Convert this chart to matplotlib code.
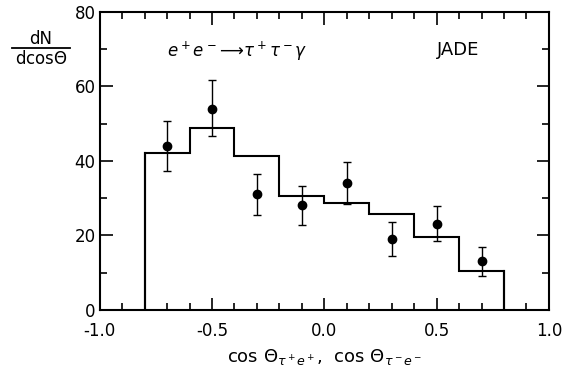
import matplotlib
matplotlib.use("Agg")
import matplotlib.pyplot as plt
from matplotlib.ticker import MultipleLocator
from matplotlib.lines import Line2D

# histogram (MC expectation), bins of 0.2 from -0.8 to 0.8
bin_edges = [-0.8, -0.6, -0.4, -0.2, 0.0, 0.2, 0.4, 0.6, 0.8]
hist_vals = [42, 48.8, 41.2, 30.6, 28.8, 25.8, 19.7, 10.5]

# data points
x_pts = [-0.7, -0.5, -0.3, -0.1, 0.1, 0.3, 0.5, 0.7]
y_pts = [44.1, 54.0, 31.0, 28.2, 34.2, 19.0, 23.2, 13.1]
err_up = [6.5, 7.6, 5.6, 5.1, 5.6, 4.5, 4.8, 3.7]
err_dn = [6.7, 7.2, 5.4, 5.4, 5.7, 4.5, 4.7, 4.0]

plt.rcParams['font.family'] = ['DejaVu Sans']
plt.rcParams['mathtext.fontset'] = 'dejavusans'

fig = plt.figure(figsize=(5.7, 3.73), dpi=100)
ax = fig.add_axes([0.175, 0.169, 0.788, 0.799])

ax.stairs(hist_vals, bin_edges, color='black', lw=1.5, baseline=0)
ax.plot([bin_edges[0], bin_edges[0]], [0, hist_vals[0]], color='black', lw=1.5)
ax.plot([bin_edges[-1], bin_edges[-1]], [0, hist_vals[-1]], color='black', lw=1.5)

ax.errorbar(x_pts, y_pts, yerr=[err_dn, err_up], fmt='o', color='black',
            ms=6, elinewidth=1.0, capsize=3, capthick=1.0)

ax.set_xlim(-1.0, 1.0)
ax.set_ylim(0, 80)
ax.xaxis.set_major_locator(MultipleLocator(0.5))
ax.xaxis.set_minor_locator(MultipleLocator(0.1))
ax.yaxis.set_major_locator(MultipleLocator(20))
ax.yaxis.set_minor_locator(MultipleLocator(10))
ax.set_xticks([-1.0, -0.5, 0.0, 0.5, 1.0])
ax.set_xticklabels(['-1.0', '-0.5', '0.0', '0.5', '1.0'])
ax.tick_params(which='both', direction='in', top=True, right=True, labelsize=12,
               width=1.2)
ax.tick_params(which='major', length=9)
ax.tick_params(which='minor', length=5)
ax.tick_params(axis='x', pad=9)
ax.tick_params(axis='y', pad=3)
for s in ax.spines.values():
    s.set_linewidth(1.5)

ax.text(-0.70, 69.3, r'$e^+e^-\!\longrightarrow\!\tau^+\tau^-\gamma$', fontsize=12,
        ha='left', va='center')
ax.text(0.50, 69.8, 'JADE', fontsize=13, ha='left', va='center')

ax.set_xlabel(r'cos $\Theta_{\tau^+e^+}$,  cos $\Theta_{\tau^-e^-}$', fontsize=13,
              labelpad=5)

# y label as a fraction
fig.text(0.072, 0.895, 'dN', fontsize=12, ha='center', va='center')
fig.text(0.072, 0.842, r'dcos$\Theta$', fontsize=12, ha='center', va='center')
fig.add_artist(Line2D([0.021, 0.123], [0.871, 0.871], transform=fig.transFigure,
                      color='black', lw=1.3))

fig.savefig('out.png', dpi=100)
